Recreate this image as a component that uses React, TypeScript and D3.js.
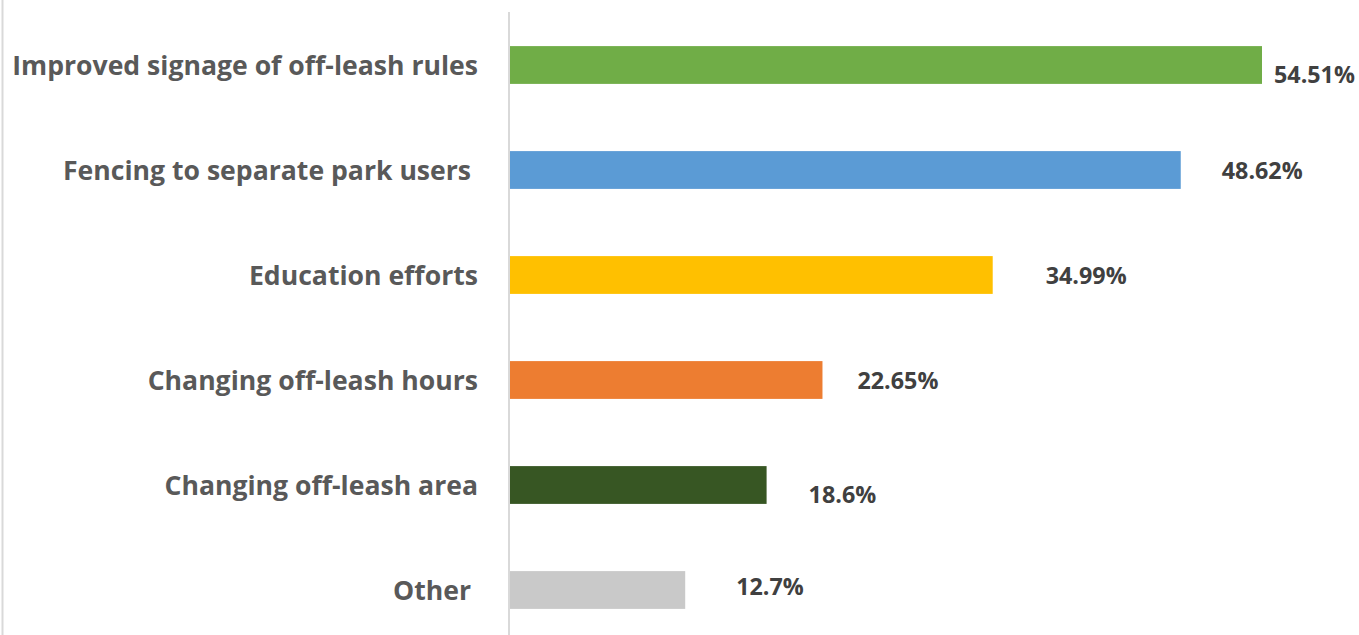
import React from "react";
import * as d3 from "d3";

const categories = [
  "Improved signage of off-leash rules",
  "Fencing to separate park users ",
  "Education efforts",
  "Changing off-leash hours",
  "Changing off-leash area",
  "Other ",
];
const values = [54.51, 48.62, 34.99, 22.65, 18.6, 12.7];
const valueLabels = ["54.51%", "48.62%", "34.99%", "22.65%", "18.6%", "12.7%"];
const barColors = ["#70AD47", "#5B9BD5", "#FFC000", "#ED7D31", "#375623", "#C9C9C9"];

// manual label placement (as in the source chart): horizontal gap after bar end, baseline offset from bar center
const labelDx = [12, 41, 53, 35, 42, 51];
const labelDy = [17.7, 9, 9, 9, 17.7, 5.3];

const W = 1359;
const H = 635;

export default function App() {
  const x = d3.scaleLinear().domain([0, 54.51]).range([510, 1262]);
  const y = d3
    .scaleBand<string>()
    .domain(categories)
    .range([12.5, 642.5])
    .paddingInner(0.64)
    .paddingOuter(0.32);
  const font = "'Open Sans', 'Noto Sans', sans-serif";
  return (
    <svg
      width={W}
      height={H}
      style={{ position: "absolute", left: 0, top: 0, background: "#fff" }}
    >
      <line x1={2.5} x2={2.5} y1={0} y2={H} stroke="#D9D9D9" strokeWidth={2} />
      {categories.map((c, i) => {
        const y0 = y(c) as number;
        const bw = y.bandwidth();
        return (
          <g key={c}>
            <rect x={x(0)} y={y0} width={x(values[i]) - x(0)} height={bw} fill={barColors[i]} />
            <text
              x={478}
              y={y0 + bw / 2 + 9.5}
              textAnchor="end"
              fontFamily={font}
              fontWeight={700}
              fontSize={26.6}
              fill="#595959"
              style={{ whiteSpace: "pre" }}
            >
              {c}
            </text>
            <text
              x={x(values[i]) + labelDx[i]}
              y={y0 + bw / 2 + labelDy[i]}
              fontFamily={font}
              fontWeight={700}
              fontSize={23.3}
              fill="#404040"
            >
              {valueLabels[i]}
            </text>
          </g>
        );
      })}
      <line x1={x(0) - 1} x2={x(0) - 1} y1={12} y2={H} stroke="#D9D9D9" strokeWidth={2} />
    </svg>
  );
}
